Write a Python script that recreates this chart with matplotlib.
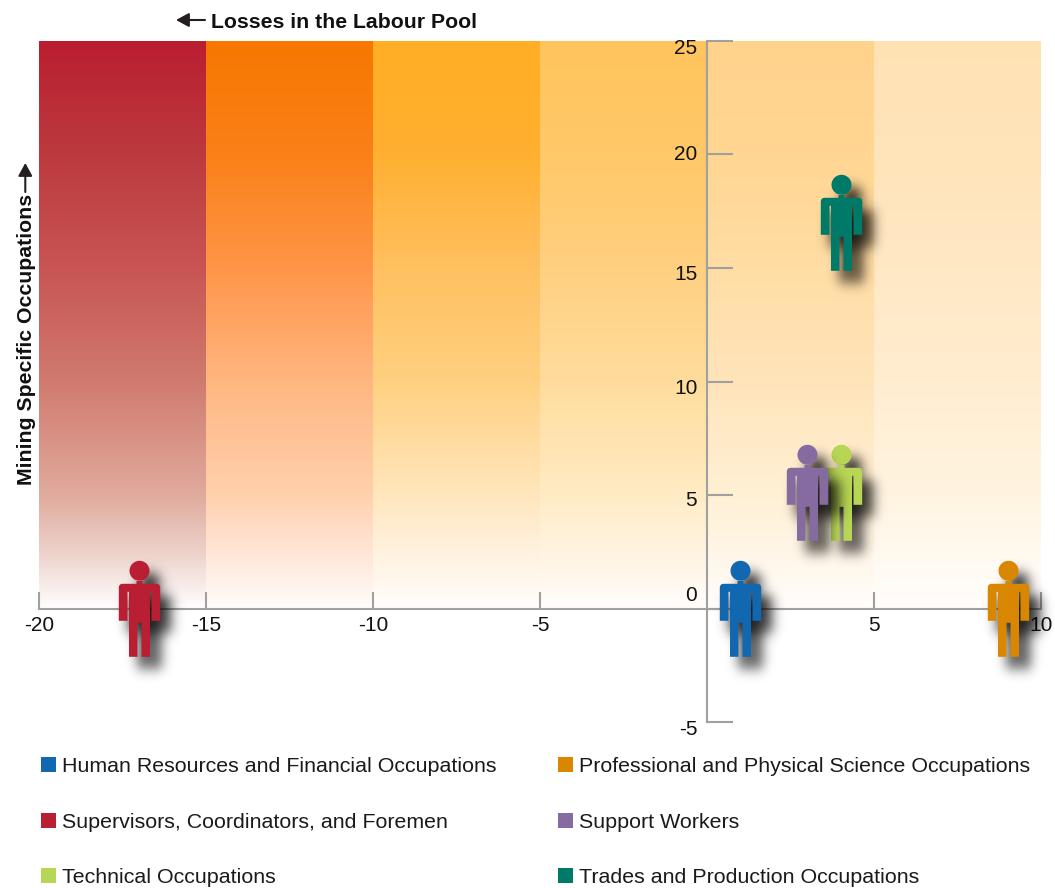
#!/usr/bin/env python3
"""Labour pool chart for mining occupations, one person icon per occupation group."""

import matplotlib
matplotlib.use('Agg')
import matplotlib.pyplot as plt
import numpy as np
from matplotlib.colors import LinearSegmentedColormap
from matplotlib.markers import MarkerStyle
from matplotlib.patches import Patch
from matplotlib.path import Path
from matplotlib.transforms import ScaledTranslation

plt.rcParams['font.family'] = ['Liberation Sans', 'DejaVu Sans']
plt.rcParams['axes.unicode_minus'] = False

# Occupation groups, in legend order
occupations = [
    'Human Resources and Financial Occupations',
    'Supervisors, Coordinators, and Foremen',
    'Technical Occupations',
    'Professional and Physical Science Occupations',
    'Support Workers',
    'Trades and Production Occupations',
]
labour_pool = [1, -17, 4, 9, 3, 4]
mining_specific = [0, 0, 5.1, 0, 5.1, 17]
occupation_colors = ['#1268B0', '#BA1E33', '#B8D655', '#D98700', '#866BA0', '#007A68']

x_ticks = [-20, -15, -10, -5, 5, 10]
y_ticks = [-5, 0, 5, 10, 15, 20, 25]

# Background bands: edges along x, and colours at each gradient stop along y
band_edges = [-20, -15, -10, -5, 0, 5, 10]
gradient_stops = [0, 2.5, 5, 10, 15, 20, 25]
band_ramps = [
    ['#FFFDFD', '#ECD0C8', '#E0AA9C', '#D07A6E', '#C85553', '#BC3A3E', '#BA1E31'],
    ['#FFFCFA', '#FFE5D5', '#FFD0AC', '#FFB680', '#FF9548', '#FA8018', '#F77700'],
    ['#FFFDFB', '#FFF1DE', '#FFE6BC', '#FFD080', '#FFC060', '#FFB030', '#FFAE25'],
    ['#FFFDFB', '#FFF3E0', '#FFEBC4', '#FFDC9C', '#FFD080', '#FFC868', '#FFC45C'],
    ['#FFFDFB', '#FFF6E8', '#FFF0D4', '#FFE4BA', '#FFDDA4', '#FFD692', '#FFD38C'],
    ['#FFFDFB', '#FFF9EF', '#FFF4E0', '#FFEDD0', '#FFE8C4', '#FFE4BA', '#FFE2B4'],
]

AXIS_COLOR = '#A0A0A0'
TEXT_COLOR = '#111111'
ARROW_COLOR = '#231F20'


def person_marker():
    """Build the person icon as a marker path, head above a body with slit arms and legs."""
    head = Path.circle((0, 38), 10)
    body = Path([
        (-3, 28), (3, 28), (3, 25), (16.7, 25), (20.7, 25), (20.7, 21), (20.7, -12),
        (12, -12), (12, 17), (10.5, 17), (10.5, -48), (2, -48), (2, -14),
        (-2, -14), (-2, -48), (-10.5, -48), (-10.5, 17), (-12, 17), (-12, -12),
        (-20.7, -12), (-20.7, 21), (-20.7, 25), (-16.7, 25), (-3, 25), (-3, 28),
    ], [
        Path.MOVETO, Path.LINETO, Path.LINETO, Path.LINETO, Path.CURVE3, Path.CURVE3,
        Path.LINETO, Path.LINETO, Path.LINETO, Path.LINETO, Path.LINETO, Path.LINETO,
        Path.LINETO, Path.LINETO, Path.LINETO, Path.LINETO, Path.LINETO, Path.LINETO,
        Path.LINETO, Path.LINETO, Path.LINETO, Path.CURVE3, Path.CURVE3, Path.LINETO,
        Path.CLOSEPOLY,
    ])
    person = Path.make_compound_path(head, body)
    # Sit the figure slightly above its anchor point
    return MarkerStyle(Path(person.vertices + [0, 0.7], person.codes))


def soft_shadow(image, dpi):
    """Agg filter: blur the alpha channel and shift it down to the right."""
    sigma = 4.5
    pad = 18
    shift_x, shift_y = 5, -6
    kernel = np.exp(-0.5 * (np.arange(-pad, pad + 1) / sigma) ** 2)
    kernel /= kernel.sum()
    alpha = np.pad(image[:, :, 3], pad)
    alpha = np.apply_along_axis(np.convolve, 0, alpha, kernel, mode='same')
    alpha = np.apply_along_axis(np.convolve, 1, alpha, kernel, mode='same')
    shadow = np.zeros(alpha.shape + (4,))
    shadow[:, :, 3] = np.clip(alpha * 0.95, 0, 1)
    return shadow, shift_x - pad, shift_y - pad


def px_x(x):
    return x / 1055


def px_y(y):
    return 1 - y / 888


fig = plt.figure(figsize=(10.55, 8.88), dpi=100, facecolor='white')
ax = fig.add_axes([px_x(39), px_y(722), px_x(1041 - 39), (722 - 41) / 888])
ax.patch.set_visible(False)

# Background bands fade out toward the x axis
stop_fracs = [s / gradient_stops[-1] for s in gradient_stops]
for i, ramp in enumerate(band_ramps):
    cmap = LinearSegmentedColormap.from_list(f'band{i}', list(zip(stop_fracs, ramp)))
    gradient = np.linspace(0, 1, 256).reshape(-1, 1)
    ax.imshow(gradient, cmap=cmap, origin='lower', aspect='auto', zorder=1,
              extent=[band_edges[i], band_edges[i + 1], 0, 25], interpolation='bilinear')

ax.set_xlim(-20, 10)
ax.set_ylim(-5, 25)

# Axes cross at the origin
for side in ['top', 'right']:
    ax.spines[side].set_visible(False)
for side in ['left', 'bottom']:
    ax.spines[side].set_position(('data', 0))
    ax.spines[side].set_color(AXIS_COLOR)
    ax.spines[side].set_linewidth(1.5)
    ax.spines[side].set_zorder(2)

ax.set_xticks(x_ticks)
ax.set_yticks(y_ticks)
ax.tick_params(axis='x', direction='in', length=12.5, width=1.5, color=AXIS_COLOR,
               pad=5.3, labelsize=15, labelcolor=TEXT_COLOR)
ax.tick_params(axis='y', direction='in', length=18.5, width=1.5, color=AXIS_COLOR,
               pad=7, labelsize=15, labelcolor=TEXT_COLOR)

# The y labels do not sit level with their ticks, the 0 in particular clears the x axis
y_label_nudge = {-5: 5, 0: -15, 5: 3, 10: 5, 15: 4, 20: -2, 25: 6}
for value, label in zip(y_ticks, ax.get_yticklabels()):
    label.set_transform(label.get_transform()
                        + ScaledTranslation(0, -y_label_nudge[value] / 100, fig.dpi_scale_trans))

# Person icons, each with its blurred shadow underneath
marker = person_marker()
for i in range(len(occupations)):
    ax.scatter(labour_pool[i], mining_specific[i], marker=marker, s=4918, c='black',
               linewidths=0, zorder=3 + 2 * i, clip_on=False, agg_filter=soft_shadow)
    ax.scatter(labour_pool[i], mining_specific[i], marker=marker, s=4918,
               c=occupation_colors[i], linewidths=0, zorder=4 + 2 * i, clip_on=False)

# Axis captions with their arrows
arrow_props = dict(arrowstyle='-|>,head_length=0.55,head_width=0.3', color=ARROW_COLOR, lw=1.5,
                   shrinkA=0, shrinkB=0, mutation_scale=14)
fig.text(px_x(211), px_y(27.5), 'Losses in the Labour Pool', fontsize=15.3, fontweight='bold',
         color=TEXT_COLOR, ha='left', va='baseline')
ax.annotate('', xy=(px_x(176), px_y(20)), xytext=(px_x(205), px_y(20)),
            xycoords='figure fraction', textcoords='figure fraction', arrowprops=arrow_props)
fig.text(px_x(31.5), px_y(485), 'Mining Specific Occupations', fontsize=15.3, fontweight='bold',
         color=TEXT_COLOR, rotation=90, ha='left', va='baseline', rotation_mode='anchor')
ax.annotate('', xy=(px_x(25.3), px_y(163)), xytext=(px_x(25.3), px_y(192)),
            xycoords='figure fraction', textcoords='figure fraction', arrowprops=arrow_props)

handles = [Patch(facecolor=c, edgecolor='none') for c in occupation_colors]
fig.legend(handles, occupations, ncols=2, loc='upper left', frameon=False,
           bbox_to_anchor=(px_x(41), px_y(757)), borderpad=0, borderaxespad=0,
           fontsize=15.4, labelcolor='#1A1A1A', handlelength=0.70, handleheight=0.70,
           handletextpad=0.28, labelspacing=1.71, columnspacing=2.9)

plt.savefig('out.png', dpi=100, facecolor='white')
plt.close()
